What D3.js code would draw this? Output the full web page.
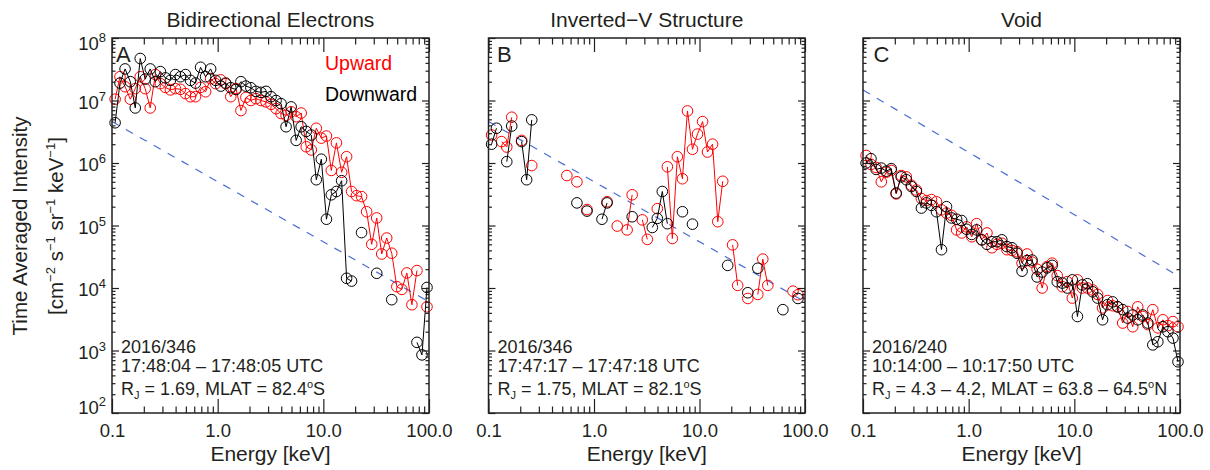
<!DOCTYPE html>
<html><head><meta charset="utf-8">
<script src="https://cdn.jsdelivr.net/npm/d3@7"></script>
<style>
html,body{margin:0;padding:0;background:#fff;}
svg{display:block;}
text{font-family:"Liberation Sans",Arial,Helvetica,sans-serif;fill:#231f20;}
</style></head><body>
<svg id="chart" width="1210" height="470"></svg>
<script>
// ---------- DATA ----------
const energy = [0.107,0.119,0.133,0.149,0.166,0.185,0.206,0.230,0.257,0.287,0.320,0.357,0.398,0.444,0.496,0.553,0.617,0.689,0.769,0.858,0.957,1.07,1.19,1.33,1.49,1.66,1.85,2.06,2.30,2.57,2.87,3.20,3.57,3.98,4.44,4.96,5.53,6.17,6.89,7.69,8.58,9.57,10.7,11.9,13.3,14.9,16.6,18.5,20.6,23.0,25.7,28.7,32.0,35.7,39.8,44.4,49.6,55.3,61.7,68.9,76.9,85.8,95.7];

// Panel A: Bidirectional Electrons
const aUp = [1.05e7,2.4e7,1.66e7,1.05e7,1.55e7,2.4e7,1.55e7,7.6e6,2.6e7,1.86e7,
  1.62e7,1.48e7,1.55e7,1.51e7,1.29e7,1.15e7,1.15e7,1.62e7,1.38e7,2.24e7,
  1.86e7,2.14e7,1.86e7,1.15e7,1.55e7,6.9e6,1.12e7,1.0e7,1.07e7,1.0e7,
  9.5e6,8.7e6,7.4e6,6.2e6,5.8e6,6.6e6,5.5e6,6.3e6,1.82e6,1.62e6,
  3.6e6,2.5e6,2.7e6,7.6e5,2.1e6,7.1e5,1.26e6,3.5e5,3.0e5,2.9e5,
  1.66e5,5.0e4,1.32e5,3.5e4,6.3e4,3.6e4,1.05e4,9.5e3,1.74e4,5.4e3,
  1.9e4,null,5.0e3];
const aDown = [4.4e6,1.9e7,3.2e7,2.0e7,7.6e6,4.7e7,2.2e7,3.2e7,2.0e7,2.9e7,
  2.3e7,2.1e7,2.6e7,2.4e7,2.6e7,2.1e7,1.9e7,3.4e7,2.4e7,3.2e7,
  2.1e7,1.7e7,1.9e7,1.6e7,1.5e7,2.0e7,1.7e7,1.6e7,1.4e7,1.35e7,
  1.4e7,1.15e7,1.0e7,8.9e6,3.8e6,7.9e6,2.3e6,3.8e6,3.2e6,2.8e6,
  5.4e5,1.15e6,1.26e5,3.1e5,3.5e5,5.2e5,1.43e4,1.29e4,null,7.7e4,
  null,null,1.72e4,null,null,6.5e3,null,null,null,null,
  1.35e3,8.5e2,1.02e4];

// Panel B: Inverted-V Structure
const bUp = [2.8e6,null,2.2e6,1.8e6,5.4e6,null,2.3e6,null,9.1e5,null,
  null,null,null,null,null,6.3e5,null,5.0e5,null,1.8e5,
  null,null,null,2.4e5,null,9.8e4,null,8.5e4,3.1e5,null,
  1.23e5,6.0e4,null,1.86e5,null,8.7e5,6.2e4,1.26e6,5.6e5,6.8e6,
  1.66e6,2.9e6,4.6e6,1.5e6,2.0e6,1.15e5,5.1e5,null,4.9e4,1.1e4,
  null,6.8e3,null,7.9e3,2.9e4,1.1e4,null,null,null,null,
  8.9e3,7.8e3,null];
const bDown = [2.0e6,3.6e6,null,1.05e6,3.9e6,null,2.2e6,5.4e5,4.9e6,null,
  null,null,null,null,null,null,null,2.3e5,null,1.7e5,
  null,null,1.26e5,2.3e5,null,null,null,null,1.38e5,null,
  null,null,9.3e4,1.3e5,3.5e5,1.07e5,null,null,1.66e5,null,
  1.05e5,null,null,null,null,null,null,2.3e4,null,null,
  null,8.4e3,null,2.07e4,null,null,null,null,4.5e3,null,
  null,6.8e3,null];

// Panel C: Void
const cUp = [1.32e6,9.5e5,8.5e5,5.0e5,7.1e5,7.6e5,3.2e5,6.3e5,6.0e5,4.4e5,
  3.7e5,2.7e5,2.5e5,2.6e5,2.4e5,1.78e5,1.58e5,1.45e5,8.5e4,7.6e4,
  9.5e4,6.6e4,1.07e5,5.9e4,7.6e4,4.4e4,5.0e4,5.2e4,4.1e4,4.0e4,
  3.8e4,2.5e4,3.5e4,2.6e4,2.0e4,1.0e4,2.2e4,2.5e4,1.58e4,1.05e4,
  1.26e4,6.9e3,1.35e4,1.0e4,1.0e4,9.3e3,7.9e3,4.8e3,6.3e3,5.2e3,
  5.0e3,2.75e3,4.2e3,2.4e3,5.0e3,3.5e3,2.6e3,4.5e3,2.3e3,3.1e3,
  2.5e3,2.9e3,2.4e3];
const cDown = [1.0e6,1.17e6,7.9e5,8.3e5,7.4e5,8.1e5,3.3e5,6.0e5,5.4e5,4.2e5,
  3.5e5,1.9e5,2.3e5,2.1e5,1.66e5,4.1e4,2.0e5,1.32e5,1.26e5,1.2e5,
  8.7e4,7.2e4,8.5e4,5.9e4,5.0e4,5.5e4,5.5e4,5.9e4,4.6e4,4.4e4,
  3.6e4,1.86e4,2.75e4,2.8e4,1.5e4,1.8e4,2.1e4,2.3e4,1.26e4,1.2e4,
  1.0e4,1.35e4,3.5e3,1.12e4,1.17e4,8.7e3,6.9e3,3.1e3,5.4e3,6.0e3,
  5.0e3,4.5e3,3.3e3,3.7e3,3.1e3,3.7e3,2.75e3,1.23e3,1.38e3,2.4e3,
  2.0e3,1.58e3,6.6e2];

// Reference (dashed) power-law lines
const refEnergy = [0.1, 100];
const refA = [4.6e6, 6.0e3];
const refB = [4.6e6, 6.0e3];
const refC = [1.47e7, 1.5e4];

// Text
const titles = ["Bidirectional Electrons", "Inverted\u2212V Structure", "Void"];
const letters = ["A", "B", "C"];
const xTickValues = [0.1, 1, 10, 100];
const xTickLabels = ["0.1", "1.0", "10.0", "100.0"];
const yTickValues = [1e2, 1e3, 1e4, 1e5, 1e6, 1e7, 1e8];
const yTickExponents = ["2", "3", "4", "5", "6", "7", "8"];
const annotDate = ["2016/346", "2016/346", "2016/240"];
const annotTime = ["17:48:04 \u2013 17:48:05 UTC", "17:47:17 \u2013 17:47:18 UTC", "10:14:00 \u2013 10:17:50 UTC"];
const annotRj = ["1.69", "1.75", "4.3 \u2013 4.2"];
const annotMlat = ["82.4", "82.1", "63.8 \u2013 64.5"];
const annotHemi = ["S", "S", "N"];
const legendLabels = ["Upward", "Downward"];
const seriesColors = ["#ff0000", "#000000"];
const yTitle = "Time Averaged Intensity";
const yUnitParts = [["[cm", "\u22122"], [" s", "\u22121"], [" sr", "\u22121"], [" keV", "\u22121"]];

// ---------- DRAW ----------
const svg = d3.select("#chart");
svg.append("rect").attr("width", 1210).attr("height", 470).attr("fill", "#fff");

const T = 38, B = 413;
const ink = "#231f20";
const panels = [
  {L: 112, R: 429, up: aUp, down: aDown, ref: refA, letterDx: 4},
  {L: 488.5, R: 805, up: bUp, down: bDown, ref: refB, letterDx: 8.5},
  {L: 863, R: 1180, up: cUp, down: cDown, ref: refC, letterDx: 10.5}
];
const y = d3.scaleLog().domain([1e2, 1e8]).range([B, T]);

const minorX = [];
[0.1, 1, 10].forEach(d => { for (let k = 2; k <= 9; k++) minorX.push(d * k); });
const minorY = [];
[1e2, 1e3, 1e4, 1e5, 1e6, 1e7].forEach(d => { for (let k = 2; k <= 9; k++) minorY.push(d * k); });

panels.forEach((p, i) => {
  const x = d3.scaleLog().domain([0.1, 100]).range([p.L, p.R]);
  const g = svg.append("g");

  // reference dashed line
  g.append("path")
    .datum(refEnergy.map((e, k) => ({e, v: p.ref[k]})))
    .attr("d", d3.line().x(d => x(d.e)).y(d => y(d.v)))
    .attr("fill", "none").attr("stroke", "#4a6cd4").attr("stroke-width", 1.2)
    .attr("stroke-dasharray", "8,8");

  // series: upward (red) first, downward (black) on top
  [p.up, p.down].forEach((vals, s) => {
    const pts = energy.map((e, k) => ({e, v: vals[k]}));
    g.append("path").datum(pts)
      .attr("d", d3.line().defined(d => d.v != null).x(d => x(d.e)).y(d => y(d.v)))
      .attr("fill", "none").attr("stroke", seriesColors[s]).attr("stroke-width", 1);
    g.append("g").selectAll("circle")
      .data(pts.filter(d => d.v != null))
      .join("circle")
      .attr("cx", d => x(d.e)).attr("cy", d => y(d.v)).attr("r", 5.3)
      .attr("fill", "none").attr("stroke", seriesColors[s]).attr("stroke-width", 1);
  });

  // axes (ticks inward)
  const addAxis = (axis, tx, ty) => {
    const a = g.append("g").attr("transform", `translate(${tx},${ty})`).call(axis);
    a.select(".domain").remove();
    a.selectAll("line").attr("stroke", ink).attr("stroke-width", 1.2);
    return a;
  };
  const xb = addAxis(d3.axisBottom(x).tickValues(xTickValues).tickSize(-14).tickPadding(11)
    .tickFormat((d, k) => xTickLabels[k]), 0, B);
  xb.selectAll("text").attr("fill", ink).attr("font-size", 18.5)
    .attr("font-family", '"Liberation Sans",Arial,Helvetica,sans-serif');
  addAxis(d3.axisBottom(x).tickValues(minorX).tickSize(-6.5).tickFormat(""), 0, B);
  addAxis(d3.axisTop(x).tickValues(xTickValues).tickSize(-14).tickFormat(""), 0, T);
  addAxis(d3.axisTop(x).tickValues(minorX).tickSize(-6.5).tickFormat(""), 0, T);
  addAxis(d3.axisLeft(y).tickValues(yTickValues).tickSize(-7).tickFormat(""), p.L, 0);
  addAxis(d3.axisLeft(y).tickValues(minorY).tickSize(-3.5).tickFormat(""), p.L, 0);
  addAxis(d3.axisRight(y).tickValues(yTickValues).tickSize(-7).tickFormat(""), p.R, 0);
  addAxis(d3.axisRight(y).tickValues(minorY).tickSize(-3.5).tickFormat(""), p.R, 0);

  // frame
  g.append("rect").attr("x", p.L).attr("y", T).attr("width", p.R - p.L).attr("height", B - T)
    .attr("fill", "none").attr("stroke", ink).attr("stroke-width", 1.5);

  // title
  g.append("text").attr("x", (p.L + p.R) / 2).attr("y", 26.5).attr("text-anchor", "middle")
    .attr("font-size", 21).text(titles[i]);
  // x-axis title
  g.append("text").attr("x", (p.L + p.R) / 2).attr("y", 461).attr("text-anchor", "middle")
    .attr("font-size", 21).text("Energy [keV]");
  // panel letter
  g.append("text").attr("x", p.L + p.letterDx).attr("y", 62).attr("font-size", 22).text(letters[i]);

  // annotations
  const ax = p.L + 9;
  g.append("text").attr("x", ax).attr("y", 353).attr("font-size", 18).text(annotDate[i]);
  g.append("text").attr("x", ax).attr("y", 372).attr("font-size", 18).text(annotTime[i]);
  const t3 = g.append("text").attr("x", ax).attr("y", 395).attr("font-size", 18);
  t3.append("tspan").text("R");
  t3.append("tspan").attr("font-size", 11).attr("dy", 4).text("J");
  t3.append("tspan").attr("dy", -4).text(" = " + annotRj[i] + ", MLAT = " + annotMlat[i]);
  t3.append("tspan").attr("font-size", 11).attr("dy", -7).text("o");
  t3.append("tspan").attr("dy", 7).text(annotHemi[i]);

  if (i === 0) {
    // y tick labels 10^n
    const yOff = [1, 8, 8, 8, 8, 8, 12];
    yTickValues.forEach((v, k) => {
      const t = g.append("text").attr("x", p.L - 6).attr("y", y(v) + yOff[k])
        .attr("text-anchor", "end").attr("font-size", 18.5);
      t.append("tspan").text("10");
      t.append("tspan").attr("font-size", 13).attr("dy", -8).text(yTickExponents[k]);
    });
    // legend
    legendLabels.forEach((lab, k) => {
      g.append("text").attr("x", 325).attr("y", 70 + k * 31).attr("font-size", 19.5)
        .style("fill", seriesColors[k]).text(lab);
    });
  }
});

// y-axis title (two lines)
svg.append("text").attr("transform", "translate(27,226) rotate(-90)")
  .attr("text-anchor", "middle").attr("font-size", 20.5).text(yTitle);
const yt2 = svg.append("text").attr("transform", "translate(63,226) rotate(-90)")
  .attr("text-anchor", "middle").attr("font-size", 20.5);
yUnitParts.forEach(([base, sup], k) => {
  const b = yt2.append("tspan").text(base);
  if (k > 0) b.attr("dy", 8);
  yt2.append("tspan").attr("font-size", 13).attr("dy", -8).text(sup);
});
yt2.append("tspan").attr("dy", 8).text("]");
</script>
</body></html>
